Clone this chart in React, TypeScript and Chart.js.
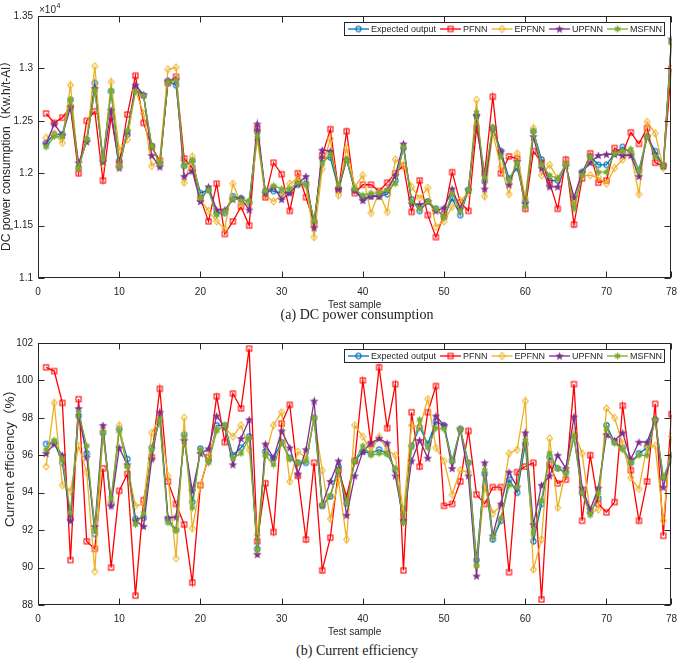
import React, { useEffect, useRef } from 'react';
import { Chart, registerables } from 'chart.js';

Chart.register(...registerables);

// ---------- data ----------
const samples = Array.from({ length: 78 }, (_, i) => i + 1);
const xTickValues = [0, 10, 20, 30, 40, 50, 60, 70, 78];
const dcTickValues = [1.1, 1.15, 1.2, 1.25, 1.3, 1.35];
const ceTickValues = [88, 90, 92, 94, 96, 98, 100, 102];
const seriesNames = ['Expected output', 'PFNN', 'EPFNN', 'UPFNN', 'MSFNN'];
const seriesColors = ['#0072BD', '#FF0000', '#EDB120', '#7E2F8E', '#77AC30'];
const seriesMarkers = ['circle', 'square', 'diamond', 'pentagram', 'hexagram'];
const dcAxisTitle = 'DC power consumption\uff08Kw.h/t-Al\uff09';
const ceAxisTitle = 'Current efficiency\uff08%\uff09';
const xAxisTitle = 'Test sample';

// DC power consumption (x10^4 Kw.h/t-Al)
const dcExpected = [1.229, 1.237, 1.237, 1.27, 1.205, 1.232, 1.286, 1.213, 1.278, 1.212, 1.237, 1.281, 1.274, 1.226, 1.209, 1.288, 1.284, 1.207, 1.212, 1.181, 1.184, 1.162, 1.162, 1.178, 1.176, 1.172, 1.24, 1.183, 1.183, 1.181, 1.182, 1.189, 1.19, 1.154, 1.214, 1.215, 1.185, 1.213, 1.184, 1.176, 1.178, 1.178, 1.18, 1.193, 1.224, 1.175, 1.164, 1.173, 1.166, 1.158, 1.176, 1.16, 1.184, 1.255, 1.192, 1.243, 1.221, 1.195, 1.205, 1.173, 1.24, 1.213, 1.193, 1.193, 1.209, 1.17, 1.201, 1.216, 1.208, 1.208, 1.219, 1.225, 1.219, 1.203, 1.235, 1.221, 1.207, 1.325];
const dcPFNN = [1.257, 1.248, 1.253, 1.263, 1.2, 1.25, 1.259, 1.193, 1.254, 1.209, 1.256, 1.293, 1.248, 1.225, 1.212, 1.286, 1.292, 1.214, 1.205, 1.176, 1.154, 1.19, 1.142, 1.154, 1.168, 1.15, 1.243, 1.177, 1.21, 1.199, 1.164, 1.2, 1.177, 1.152, 1.217, 1.242, 1.184, 1.24, 1.181, 1.189, 1.189, 1.183, 1.191, 1.2, 1.207, 1.163, 1.193, 1.16, 1.139, 1.161, 1.201, 1.172, 1.164, 1.243, 1.2, 1.273, 1.2, 1.216, 1.214, 1.166, 1.221, 1.21, 1.191, 1.166, 1.213, 1.151, 1.195, 1.219, 1.191, 1.193, 1.224, 1.219, 1.239, 1.228, 1.243, 1.21, 1.207, 1.3];
const dcEPFNN = [1.234, 1.238, 1.229, 1.284, 1.205, 1.232, 1.302, 1.208, 1.287, 1.222, 1.232, 1.279, 1.257, 1.207, 1.213, 1.299, 1.301, 1.191, 1.216, 1.175, 1.164, 1.154, 1.147, 1.19, 1.171, 1.171, 1.232, 1.179, 1.173, 1.179, 1.19, 1.195, 1.188, 1.139, 1.204, 1.233, 1.179, 1.224, 1.187, 1.198, 1.162, 1.182, 1.163, 1.213, 1.208, 1.187, 1.176, 1.186, 1.149, 1.154, 1.168, 1.174, 1.181, 1.27, 1.178, 1.238, 1.206, 1.18, 1.219, 1.176, 1.243, 1.198, 1.208, 1.195, 1.209, 1.171, 1.198, 1.198, 1.196, 1.19, 1.205, 1.213, 1.219, 1.18, 1.249, 1.238, 1.205, 1.325];
const dcUPFNN = [1.228, 1.247, 1.236, 1.263, 1.21, 1.23, 1.281, 1.211, 1.26, 1.205, 1.24, 1.284, 1.275, 1.217, 1.206, 1.288, 1.289, 1.197, 1.202, 1.173, 1.187, 1.165, 1.165, 1.175, 1.176, 1.165, 1.247, 1.181, 1.187, 1.175, 1.181, 1.19, 1.197, 1.148, 1.222, 1.221, 1.185, 1.213, 1.184, 1.174, 1.178, 1.178, 1.184, 1.198, 1.228, 1.171, 1.17, 1.173, 1.164, 1.167, 1.185, 1.166, 1.184, 1.255, 1.185, 1.243, 1.221, 1.189, 1.211, 1.171, 1.235, 1.205, 1.187, 1.187, 1.207, 1.177, 1.201, 1.21, 1.217, 1.218, 1.218, 1.217, 1.217, 1.197, 1.235, 1.218, 1.207, 1.328];
const dcMSFNN = [1.225, 1.235, 1.235, 1.27, 1.205, 1.232, 1.279, 1.213, 1.279, 1.206, 1.241, 1.278, 1.274, 1.226, 1.209, 1.287, 1.289, 1.207, 1.212, 1.176, 1.184, 1.16, 1.163, 1.176, 1.174, 1.174, 1.236, 1.183, 1.188, 1.185, 1.185, 1.191, 1.189, 1.155, 1.209, 1.218, 1.189, 1.213, 1.185, 1.179, 1.181, 1.181, 1.184, 1.19, 1.225, 1.173, 1.166, 1.173, 1.166, 1.158, 1.181, 1.163, 1.184, 1.258, 1.196, 1.244, 1.216, 1.193, 1.21, 1.168, 1.24, 1.208, 1.198, 1.195, 1.208, 1.166, 1.198, 1.216, 1.201, 1.201, 1.219, 1.221, 1.223, 1.202, 1.235, 1.216, 1.207, 1.325];

// Current efficiency (%)
const ceExpected = [96.6, 96.7, 95.6, 92.6, 98.1, 96.1, 91.8, 97.2, 93.4, 97.4, 95.8, 92.6, 92.65, 96.4, 97.9, 92.6, 92.0, 97.1, 93.5, 96.35, 95.7, 97.6, 97.6, 96.0, 96.4, 97.0, 91.0, 96.2, 95.85, 96.7, 95.85, 95.6, 95.6, 98.0, 93.3, 93.8, 95.4, 93.45, 95.7, 96.2, 96.1, 96.3, 96.1, 95.2, 92.45, 96.5, 97.5, 96.6, 97.8, 97.6, 95.7, 97.4, 95.6, 90.4, 95.0, 91.5, 92.5, 94.7, 94.0, 96.6, 91.4, 93.4, 95.9, 95.3, 95.1, 97.0, 94.0, 92.95, 93.7, 97.6, 96.7, 96.4, 95.6, 96.1, 96.4, 97.9, 94.8, 95.75];
const cePFNN = [100.7, 100.5, 98.8, 90.4, 99.0, 91.4, 91.0, 95.3, 90.0, 94.1, 95.0, 88.5, 93.6, 95.9, 99.55, 94.6, 93.4, 92.3, 89.2, 94.4, 95.9, 99.15, 96.7, 99.3, 98.5, 101.7, 91.4, 94.5, 91.9, 97.7, 98.7, 94.9, 91.5, 95.6, 89.85, 91.6, 95.2, 93.8, 95.7, 100.0, 96.6, 100.7, 97.45, 99.8, 89.85, 98.3, 95.4, 98.3, 99.7, 93.3, 93.4, 94.6, 97.3, 93.9, 93.4, 94.3, 94.3, 89.75, 95.1, 95.4, 95.6, 88.3, 95.5, 94.5, 94.7, 99.8, 92.5, 96.0, 93.4, 92.95, 93.5, 98.65, 95.2, 92.5, 94.6, 98.75, 91.7, 98.2];
const ceEPFNN = [95.4, 98.8, 94.4, 94.1, 96.5, 95.1, 89.8, 97.3, 93.5, 97.6, 95.4, 93.3, 93.4, 97.2, 98.0, 94.9, 90.5, 98.0, 92.1, 94.4, 95.9, 97.4, 97.5, 97.0, 97.6, 96.3, 91.75, 96.0, 97.6, 98.3, 94.6, 96.2, 95.85, 98.0, 95.2, 92.6, 94.65, 91.5, 97.6, 97.0, 96.2, 97.0, 96.3, 96.0, 92.95, 97.6, 97.5, 99.0, 96.4, 95.7, 93.9, 95.2, 95.1, 90.1, 94.3, 92.9, 93.3, 96.1, 96.3, 98.9, 89.9, 91.5, 96.9, 93.2, 95.2, 97.3, 96.1, 92.95, 93.1, 98.5, 98.0, 96.6, 94.8, 94.2, 96.5, 96.5, 92.5, 97.0];
const ceUPFNN = [96.1, 96.6, 96.0, 92.5, 98.5, 95.9, 92.2, 97.6, 93.3, 96.4, 95.5, 92.5, 92.2, 95.8, 98.3, 92.65, 92.7, 96.8, 94.1, 96.1, 96.35, 98.1, 97.5, 95.5, 96.9, 97.9, 90.7, 96.6, 95.85, 97.3, 96.4, 95.0, 96.3, 98.9, 93.35, 94.6, 95.7, 92.8, 94.9, 96.2, 96.65, 96.9, 96.65, 94.9, 92.5, 95.7, 96.8, 95.85, 98.1, 97.6, 95.3, 97.4, 94.9, 89.55, 95.6, 91.7, 93.4, 95.1, 94.3, 97.2, 92.3, 94.4, 94.9, 96.0, 95.3, 98.05, 94.25, 93.1, 94.25, 97.1, 96.8, 97.2, 95.8, 96.7, 96.7, 97.9, 94.3, 96.0];
const ceMSFNN = [96.3, 96.8, 95.8, 92.95, 98.3, 96.5, 92.0, 97.2, 93.7, 97.3, 95.4, 92.3, 92.9, 96.3, 97.9, 92.4, 92.0, 97.0, 93.2, 96.3, 95.6, 97.3, 97.6, 95.85, 96.1, 96.9, 90.9, 96.0, 95.5, 96.65, 95.8, 95.6, 95.7, 98.0, 93.35, 93.85, 95.2, 93.45, 95.7, 96.5, 96.0, 96.1, 96.05, 95.3, 92.4, 96.4, 97.9, 96.4, 97.45, 97.4, 95.7, 97.4, 95.6, 90.1, 95.2, 91.6, 92.65, 94.4, 94.3, 96.8, 91.85, 93.6, 96.1, 95.3, 95.0, 97.0, 94.0, 92.8, 94.0, 97.45, 96.65, 96.3, 95.6, 96.0, 96.0, 97.9, 94.8, 95.95];

const dcSeries = [dcExpected, dcPFNN, dcEPFNN, dcUPFNN, dcMSFNN];
const ceSeries = [ceExpected, cePFNN, ceEPFNN, ceUPFNN, ceMSFNN];

// ---------- styling ----------
const SANS = '"Liberation Sans", Arial, Helvetica, "Noto Sans CJK SC", sans-serif';
const AXIS_COLOR = '#262626';

function starPath(ctx: CanvasRenderingContext2D, cx: number, cy: number, n: number, ro: number, ri: number) {
  ctx.beginPath();
  for (let k = 0; k < 2 * n; k++) {
    const r = k % 2 === 0 ? ro : ri;
    const ang = -Math.PI / 2 + (k * Math.PI) / n;
    const px = cx + r * Math.cos(ang);
    const py = cy + r * Math.sin(ang);
    if (k === 0) ctx.moveTo(px, py);
    else ctx.lineTo(px, py);
  }
  ctx.closePath();
}

function makeMarker(kind: string, color: string): HTMLCanvasElement {
  const s = 11;
  const c = document.createElement('canvas');
  c.width = s;
  c.height = s;
  const ctx = c.getContext('2d') as CanvasRenderingContext2D;
  const m = s / 2;
  ctx.strokeStyle = color;
  ctx.fillStyle = color;
  ctx.lineWidth = 1.1;
  if (kind === 'circle') {
    ctx.beginPath();
    ctx.arc(m, m, 2.6, 0, Math.PI * 2);
    ctx.stroke();
  } else if (kind === 'square') {
    ctx.strokeRect(m - 2.5, m - 2.5, 5, 5);
  } else if (kind === 'diamond') {
    ctx.beginPath();
    ctx.moveTo(m, m - 3.5);
    ctx.lineTo(m + 2.9, m);
    ctx.lineTo(m, m + 3.5);
    ctx.lineTo(m - 2.9, m);
    ctx.closePath();
    ctx.stroke();
  } else if (kind === 'pentagram') {
    starPath(ctx, m, m + 0.4, 5, 4.5, 1.9);
    ctx.fill();
  } else {
    starPath(ctx, m, m, 6, 3.9, 2.1);
    ctx.fill();
  }
  return c;
}

const framePlugin = {
  id: 'frame',
  afterDraw(chart: any, _args: any, opts: any) {
    const { ctx, chartArea: a } = chart;
    const xs = chart.scales.x;
    const ys = chart.scales.y;
    const L = Math.round(a.left) + 0.5;
    const R = Math.round(a.right) - 0.5;
    const T = Math.round(a.top) + 0.5;
    const B = Math.round(a.bottom) - 0.5;
    ctx.save();
    ctx.strokeStyle = AXIS_COLOR;
    ctx.lineWidth = 1;
    ctx.strokeRect(L, T, R - L, B - T);
    const tl = 6;
    ctx.beginPath();
    for (const v of opts.xTicks) {
      const px = Math.round(xs.getPixelForValue(v)) + 0.5;
      ctx.moveTo(px, B);
      ctx.lineTo(px, B - tl);
      ctx.moveTo(px, T);
      ctx.lineTo(px, T + tl);
    }
    for (const v of opts.yTicks) {
      const py = Math.round(ys.getPixelForValue(v)) + 0.5;
      ctx.moveTo(L, py);
      ctx.lineTo(L + tl, py);
      ctx.moveTo(R, py);
      ctx.lineTo(R - tl, py);
    }
    ctx.stroke();

    // y axis title (rotated)
    ctx.save();
    ctx.fillStyle = AXIS_COLOR;
    ctx.font = `${opts.yTitleSize}px ${SANS}`;
    ctx.textAlign = 'center';
    ctx.textBaseline = 'middle';
    ctx.translate(opts.yTitleX, opts.yTitleY);
    ctx.rotate(-Math.PI / 2);
    ctx.fillText(opts.yTitle, 0, 0);
    ctx.restore();

    // exponent label
    if (opts.exponent) {
      ctx.fillStyle = AXIS_COLOR;
      ctx.textBaseline = 'alphabetic';
      ctx.textAlign = 'left';
      ctx.font = `10px ${SANS}`;
      const bx = a.left + 1;
      const by = a.top - 3;
      ctx.fillText('\u00d710', bx, by);
      const w = ctx.measureText('\u00d710').width;
      ctx.font = `7px ${SANS}`;
      ctx.fillText('4', bx + w + 0.5, by - 5);
    }

    // legend
    ctx.font = `9px ${SANS}`;
    const lineLen = 21;
    const gapLT = 2;
    const gapNext = 4;
    const padL = 4;
    const padR = 3;
    const widths = seriesNames.map((n) => ctx.measureText(n).width);
    let total = padL + padR;
    widths.forEach((w, i) => {
      total += lineLen + gapLT + w + (i < widths.length - 1 ? gapNext : 0);
    });
    const boxH = 14;
    const right = Math.round(a.right) - 6;
    const left = right - Math.round(total);
    const top = Math.round(a.top) + 6;
    ctx.fillStyle = '#ffffff';
    ctx.fillRect(left, top, right - left, boxH);
    ctx.strokeStyle = AXIS_COLOR;
    ctx.lineWidth = 1;
    ctx.strokeRect(left + 0.5, top + 0.5, right - left - 1, boxH - 1);
    let x = left + padL;
    const cy = top + boxH / 2;
    seriesNames.forEach((name, i) => {
      ctx.strokeStyle = seriesColors[i];
      ctx.lineWidth = 1.3;
      ctx.beginPath();
      ctx.moveTo(x, cy);
      ctx.lineTo(x + lineLen, cy);
      ctx.stroke();
      const mk = opts.markers[i];
      ctx.drawImage(mk, x + lineLen / 2 - mk.width / 2, cy - mk.height / 2);
      x += lineLen + gapLT;
      ctx.fillStyle = AXIS_COLOR;
      ctx.textAlign = 'left';
      ctx.textBaseline = 'middle';
      ctx.fillText(name, x, cy + 0.5);
      x += widths[i] + gapNext;
    });
    ctx.restore();
  },
};

function buildConfig(kind: 'dc' | 'ce') {
  const series = kind === 'dc' ? dcSeries : ceSeries;
  const yTicks = kind === 'dc' ? dcTickValues : ceTickValues;
  const markers = seriesColors.map((c, i) => makeMarker(seriesMarkers[i], c));
  const tickFont = { family: SANS, size: 10 };
  return {
    type: 'line',
    data: {
      datasets: series.map((vals, i) => ({
        label: seriesNames[i],
        data: samples.map((s, j) => ({ x: s, y: vals[j] })),
        borderColor: seriesColors[i],
        backgroundColor: seriesColors[i],
        borderWidth: 1.3,
        pointStyle: markers[i],
        pointRadius: 3,
        tension: 0,
        fill: false,
        order: 5 - i,
      })),
    },
    options: {
      animation: false,
      responsive: false,
      devicePixelRatio: 1,
      events: [],
      layout: { padding: { top: 16, right: 7, bottom: 0, left: 0 } },
      plugins: {
        legend: { display: false },
        tooltip: { enabled: false },
        frame: {
          xTicks: xTickValues,
          yTicks,
          exponent: kind === 'dc',
          markers,
          yTitle: kind === 'dc' ? dcAxisTitle : ceAxisTitle,
          yTitleSize: kind === 'dc' ? 12 : 13.5,
          yTitleX: kind === 'dc' ? 7 : 10,
          yTitleY: kind === 'dc' ? 153 : 128,
        },
      },
      scales: {
        x: {
          type: 'linear',
          min: 0,
          max: 78,
          grid: { display: false, drawTicks: false },
          border: { display: false },
          afterBuildTicks: (s: any) => {
            s.ticks = xTickValues.map((v) => ({ value: v }));
          },
          afterFit: (s: any) => {
            s.height = 34;
          },
          ticks: {
            autoSkip: false,
            maxRotation: 0,
            padding: 8,
            color: AXIS_COLOR,
            font: tickFont,
            callback: (v: any) => String(v),
          },
          title: {
            display: true,
            text: xAxisTitle,
            color: AXIS_COLOR,
            font: { family: SANS, size: 10 },
            padding: { top: 0, bottom: 1 },
          },
        },
        y: {
          type: 'linear',
          min: yTicks[0],
          max: yTicks[yTicks.length - 1],
          grid: { display: false, drawTicks: false },
          border: { display: false },
          afterBuildTicks: (s: any) => {
            s.ticks = yTicks.map((v) => ({ value: v }));
          },
          afterFit: (s: any) => {
            s.width = 38;
          },
          ticks: {
            padding: 5,
            color: AXIS_COLOR,
            font: tickFont,
            callback: (v: any) => String(+Number(v).toFixed(2)),
          },
          title: { display: false },
        },
      },
    },
    plugins: [framePlugin],
  };
}

function ChartPanel({ kind, top }: { kind: 'dc' | 'ce'; top: number }) {
  const ref = useRef<HTMLCanvasElement | null>(null);
  useEffect(() => {
    if (!ref.current) return;
    const chart = new Chart(ref.current, buildConfig(kind) as any);
    return () => chart.destroy();
  }, [kind]);
  return (
    <canvas
      ref={ref}
      width={685}
      height={312}
      style={{ position: 'absolute', left: 0, top, width: 685, height: 312 }}
    />
  );
}

const captionStyle = (top: number): React.CSSProperties => ({
  position: 'absolute',
  left: 357,
  top,
  transform: 'translateX(-50%)',
  whiteSpace: 'nowrap',
  font: '14px "Liberation Serif", "Times New Roman", serif',
  lineHeight: '16px',
  color: '#1a1a1a',
});

export default function App() {
  return (
    <div
      style={{
        position: 'absolute',
        left: 0,
        top: 0,
        width: 685,
        height: 660,
        background: '#ffffff',
        overflow: 'hidden',
      }}
    >
      <ChartPanel kind="dc" top={0} />
      <ChartPanel kind="ce" top={327} />
      <div style={captionStyle(307)}>(a) DC power consumption</div>
      <div style={captionStyle(643)}>(b) Current efficiency</div>
    </div>
  );
}
